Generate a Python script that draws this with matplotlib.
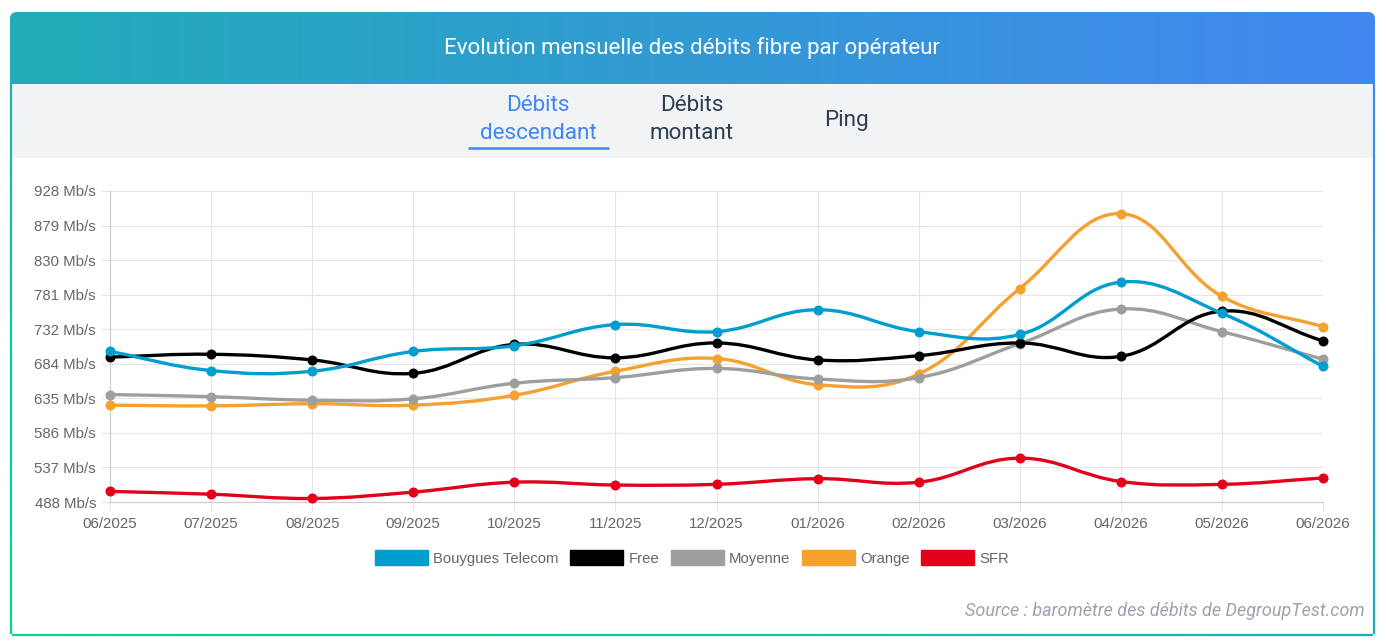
import numpy as np
import matplotlib.pyplot as plt
from matplotlib.path import Path
from matplotlib.patches import PathPatch, FancyBboxPatch, Rectangle, Patch
from matplotlib.collections import LineCollection
from matplotlib.colors import LinearSegmentedColormap, to_rgba

# ==========================================================
# DATA
# ==========================================================

months = ["06/2025", "07/2025", "08/2025", "09/2025", "10/2025", "11/2025",
          "12/2025", "01/2026", "02/2026", "03/2026", "04/2026", "05/2026",
          "06/2026"]

bouygues = [701, 674, 673, 701, 709, 739, 729, 760, 729, 725, 799, 755, 680]
free = [693, 697, 689, 670, 711, 692, 713, 689, 695, 713, 694, 758, 716]
moyenne = [640, 637, 632, 634, 656, 664, 677, 662, 664, 712, 761, 729, 690]
orange = [625, 624, 627, 625, 639, 673, 691, 654, 669, 790, 896, 779, 736]
sfr = [503, 499, 493, 502, 516, 512, 513, 521, 516, 550, 517, 513, 522]

series_names = ["Bouygues Telecom", "Free", "Moyenne", "Orange", "SFR"]
series_values = [bouygues, free, moyenne, orange, sfr]
series_colors = ["#009ECE", "#000000", "#9E9E9E", "#F5A130", "#E2001A"]

y_min, y_max = 488, 928
y_tick_labels = ["488 Mb/s", "537 Mb/s", "586 Mb/s", "635 Mb/s", "684 Mb/s",
                 "732 Mb/s", "781 Mb/s", "830 Mb/s", "879 Mb/s", "928 Mb/s"]

title = "Evolution mensuelle des débits fibre par opérateur"
tabs = ["Débits\ndescendant", "Débits\nmontant", "Ping"]
source = "Source : baromètre des débits de DegroupTest.com"

# ==========================================================
# FIGURE / CARD
# ==========================================================

W, H = 1386, 644
fig = plt.figure(figsize=(W / 100, H / 100), dpi=100)
fig.patch.set_facecolor("white")

bg = fig.add_axes([0, 0, 1, 1])
bg.set_xlim(0, W)
bg.set_ylim(H, 0)
bg.axis("off")

# header gradient
hdr_cmap = LinearSegmentedColormap.from_list("hdr", ["#22ADB8", "#4287F0"])
im = bg.imshow(np.linspace(0, 1, 256)[None, :], cmap=hdr_cmap,
               extent=[10, 1375, 84, 12], aspect="auto", zorder=1)
clip = FancyBboxPatch((10, 12), 1365, 120,
                      boxstyle="round,pad=0,rounding_size=7",
                      facecolor="none", edgecolor="none")
bg.add_patch(clip)
im.set_clip_path(clip)
bg.set_xlim(0, W)
bg.set_ylim(H, 0)

bg.text(692, 48, title, color="white", fontsize=16, family="Roboto",
        ha="center", va="center", zorder=3)

# tab bar
bg.add_patch(Rectangle((11, 84), 1363, 74, facecolor="#F2F3F5",
                       edgecolor="none", zorder=1))
bg.text(538, 119.5, tabs[0], color="#4285F4", fontsize=16.2, family="Roboto",
        ha="center", va="center", linespacing=1.38, zorder=3)
bg.text(692, 119.5, tabs[1], color="#2C3E50", fontsize=16.2, family="Roboto",
        ha="center", va="center", linespacing=1.38, zorder=3)
bg.text(846, 120, tabs[2], color="#2C3E50", fontsize=16.2, family="Roboto",
        ha="center", va="center", zorder=3)
bg.plot([468, 609], [148, 148], color="#4285F4", lw=1.8,
        solid_capstyle="butt", zorder=3)


def gradient_line(x0, y0, x1, y1, c0, c1, n=100):
    xs = np.linspace(x0, x1, n + 1)
    ys = np.linspace(y0, y1, n + 1)
    segs = [[(xs[i], ys[i]), (xs[i + 1], ys[i + 1])] for i in range(n)]
    a, b = np.array(to_rgba(c0)), np.array(to_rgba(c1))
    cols = [a + (b - a) * i / (n - 1) for i in range(n)]
    bg.add_collection(LineCollection(segs, colors=cols, linewidths=1.6,
                                     zorder=2))


# card borders
gradient_line(11, 84, 11, 634, "#20AFB3", "#00D68F")
gradient_line(12, 635, 1373, 635, "#00D68F", "#1AAFB5")
gradient_line(1374, 84, 1374, 634, "#4287F0", "#1AAFB5")

bg.text(1365, 611, source, color="#9AA3AF", fontsize=13, family="Roboto",
        style="italic", ha="right", va="center")

# ==========================================================
# CHART
# ==========================================================

ax = fig.add_axes([110 / W, 1 - 502 / H, 1213 / W, 311 / H])
ax.set_facecolor("none")
ax.set_xlim(0, len(months) - 1)
ax.set_ylim(y_min, y_max)

x = np.arange(len(months))
ax.set_xticks(x)
ax.set_xticklabels(months)
ax.set_yticks(np.linspace(y_min, y_max, len(y_tick_labels)))
ax.set_yticklabels(y_tick_labels)

for lab in ax.get_xticklabels() + ax.get_yticklabels():
    lab.set_family("Liberation Sans")
    lab.set_fontsize(10.8)
    lab.set_color("#666666")

ax.grid(True, color="#E6E6E6", lw=0.8)
ax.tick_params(axis="both", length=6.5, width=0.8, color="#E6E6E6")
ax.tick_params(axis="y", pad=3.5)
ax.tick_params(axis="x", pad=4.5)
for side in ["top", "right"]:
    ax.spines[side].set_visible(False)
for side in ["left", "bottom"]:
    ax.spines[side].set_color("#CFCFCF")
    ax.spines[side].set_linewidth(0.9)
ax.set_axisbelow(True)

# pixel scale used for the chart.js style spline (tension 0.4)
sx = 1213 / (len(months) - 1)
sy = 311 / (y_max - y_min)


def spline_path(xs, ys, tension=0.4):
    px = np.asarray(xs, float) * sx
    py = np.asarray(ys, float) * sy
    n = len(px)
    prev_cp, next_cp = [], []
    for i in range(n):
        i0, i2 = max(i - 1, 0), min(i + 1, n - 1)
        d01 = np.hypot(px[i] - px[i0], py[i] - py[i0])
        d12 = np.hypot(px[i2] - px[i], py[i2] - py[i])
        tot = d01 + d12
        s01 = d01 / tot if tot else 0
        s12 = d12 / tot if tot else 0
        fa, fb = tension * s01, tension * s12
        dx, dy = px[i2] - px[i0], py[i2] - py[i0]
        prev_cp.append((px[i] - fa * dx, py[i] - fa * dy))
        next_cp.append((px[i] + fb * dx, py[i] + fb * dy))
    verts = [(px[0], py[0])]
    codes = [Path.MOVETO]
    for i in range(n - 1):
        verts += [next_cp[i], prev_cp[i + 1], (px[i + 1], py[i + 1])]
        codes += [Path.CURVE4] * 3
    verts = np.array(verts) / np.array([sx, sy])
    return Path(verts, codes)


for k, (name, vals, col) in enumerate(zip(series_names, series_values,
                                          series_colors)):
    z = 10 - k
    ax.add_patch(PathPatch(spline_path(x, vals), facecolor="none",
                           edgecolor=col, lw=2.4, zorder=z,
                           capstyle="round", joinstyle="round"))
    ax.plot(x, vals, "o", ms=6.2, color=col, zorder=z, clip_on=False)

handles = [Patch(facecolor=c, edgecolor=c, label=n)
           for n, c in zip(series_names, series_colors)]
leg = fig.legend(handles=handles, loc="center",
                 bbox_to_anchor=(692 / W, 1 - 558 / H), ncol=5,
                 frameon=False, handlelength=3.55, handleheight=1.15,
                 handletextpad=0.35, columnspacing=0.8,
                 prop={"family": "Liberation Sans", "size": 10.7})
for t in leg.get_texts():
    t.set_color("#666666")

fig.savefig("out.png", dpi=100)
